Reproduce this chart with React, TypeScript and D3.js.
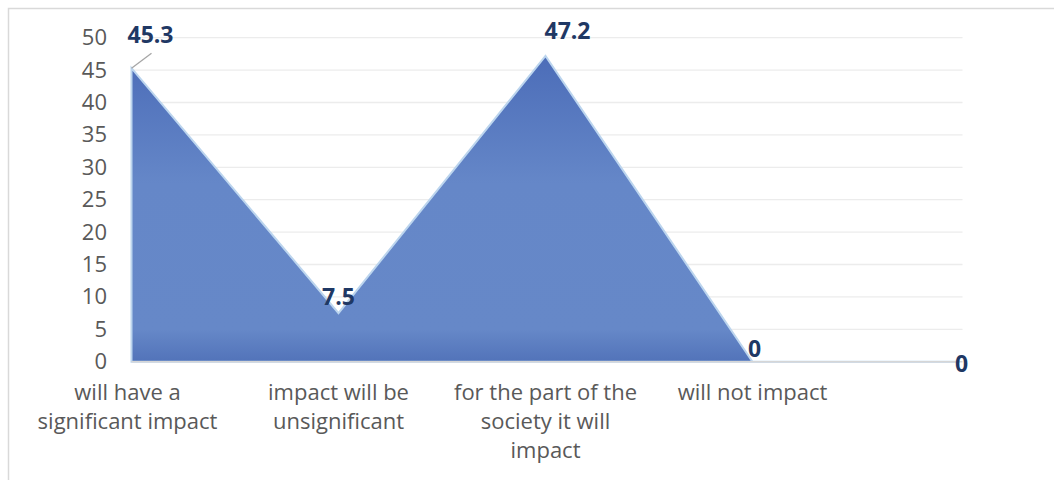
import React from "react";
import * as d3 from "d3";

// Survey answers (category axis, wrapped as shown) and their shares in %
const categoryLines: string[][] = [
  ["will have a", "significant impact"],
  ["impact will be", "unsignificant"],
  ["for the part of the", "society it will", "impact"],
  ["will not impact"],
  [],
];
const shares: number[] = [45.3, 7.5, 47.2, 0, 0];
const yTicks: number[] = [0, 5, 10, 15, 20, 25, 30, 35, 40, 45, 50];

const W = 1054;
const H = 480;
const FONT = "'Open Sans', 'DejaVu Sans', sans-serif";

export default function App() {
  const idx = d3.range(shares.length);
  const x = d3.scalePoint<number>().domain(idx).range([131.5, 959.5]);
  const y = d3.scaleLinear().domain([0, 50]).range([361.7, 37.7]);

  const area = d3
    .area<number>()
    .x((i) => x(i) as number)
    .y0(y(0))
    .y1((i) => y(shares[i]));

  // label placement relative to each point: [dx, baseline dy]
  const labelPos: [number, number][] = [
    [19, -25],
    [0, -8],
    [22, -17],
    [2, -5],
    [2, 10],
  ];

  const [x0, x1] = x.range();

  return (
    <div style={{ position: "absolute", left: 0, top: 0, width: W, height: H, overflow: "hidden", background: "#fff" }}>
      <svg width={W} height={H} style={{ display: "block" }} fontFamily={FONT}>
        <defs>
          <linearGradient id="areaFill" gradientUnits="userSpaceOnUse" x1={0} x2={0} y1={y(50)} y2={y(0)}>
            <stop offset="0" stopColor="#4869b6" />
            <stop offset="0.45" stopColor="#6587c8" />
            <stop offset="0.9" stopColor="#6688c8" />
            <stop offset="1" stopColor="#5273b9" />
          </linearGradient>
        </defs>
        <rect x={0} y={0} width={W} height={H} fill="#fff" />
        {/* chart frame */}
        <rect x={8.5} y={8.5} width={W + 50} height={H + 50} fill="none" stroke="#d9d9d9" strokeWidth={1.5} />

        {/* horizontal gridlines */}
        {yTicks.filter((t) => t > 0).map((t) => (
          <line key={t} x1={x0} x2={x1 + 3} y1={y(t)} y2={y(t)} stroke="#ececec" strokeWidth={1.3} />
        ))}

        {/* area */}
        <path d={area(idx) || ""} fill="url(#areaFill)" stroke="#bcd5ee" strokeWidth={2} strokeLinejoin="miter" />

        {/* category axis line */}
        <line x1={x0} x2={x1 + 3} y1={y(0)} y2={y(0)} stroke="#d6d6d6" strokeWidth={1.6} />

        {/* value axis labels */}
        {yTicks.map((t) => (
          <text key={t} x={107} y={y(t) + 7.5} textAnchor="end" fontSize={22} fill="#595959">
            {t}
          </text>
        ))}

        {/* category labels */}
        {categoryLines.map((lines, i) => (
          <text key={i} textAnchor="middle" fontSize={22} fill="#595959">
            {lines.map((ln, j) => (
              <tspan key={j} x={(x(i) as number) - (i === 0 ? 4 : 0)} y={400 + j * 29}>
                {ln}
              </tspan>
            ))}
          </text>
        ))}

        {/* leader line for the first label */}
        <line x1={x(0) as number} y1={y(shares[0])} x2={(x(0) as number) + 20} y2={y(shares[0]) - 15} stroke="#a6a6a6" strokeWidth={1.3} />

        {/* data labels */}
        {shares.map((v, i) => {
          const [dx, dy] = labelPos[i];
          return (
            <text
              key={i}
              x={(x(i) as number) + dx}
              y={y(v) + dy}
              textAnchor="middle"
              fontSize={23}
              fontWeight={700}
              fill="#1f3864"
            >
              {v}
            </text>
          );
        })}
      </svg>
    </div>
  );
}
